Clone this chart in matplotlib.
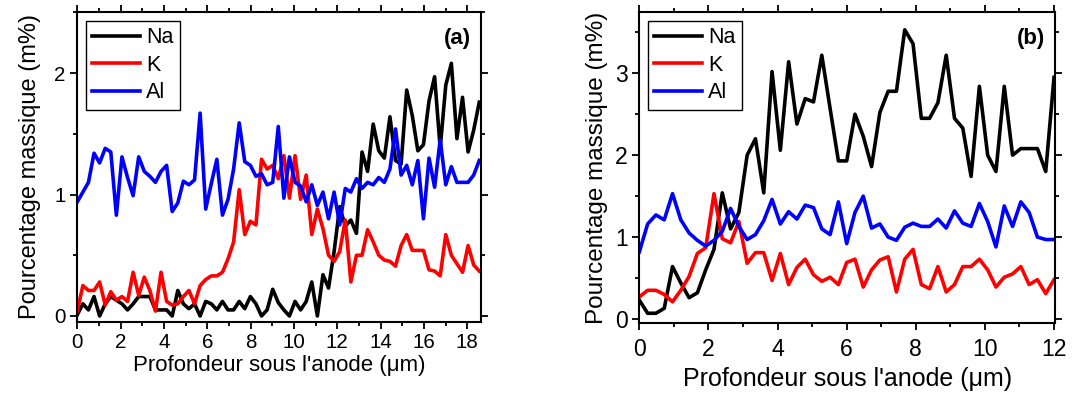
import numpy as np
import matplotlib
matplotlib.use("Agg")
import matplotlib.pyplot as plt
from matplotlib.ticker import MultipleLocator

plt.rcParams['font.family'] = ['Liberation Sans', 'DejaVu Sans']

# Panel (a) : profils sur 0 - 18.55 um
depthA = np.linspace(0, 18.55, 73)
naA = [0.01, 0.10, 0.05, 0.16, 0.00, 0.10, 0.16, 0.13, 0.10, 0.05,
       0.10, 0.16, 0.16, 0.16, 0.05, 0.05, 0.05, 0.00, 0.21, 0.10,
       0.06, 0.10, 0.00, 0.12, 0.10, 0.05, 0.12, 0.05, 0.05, 0.12,
       0.06, 0.16, 0.10, 0.00, 0.05, 0.22, 0.11, 0.05, 0.00, 0.12,
       0.05, 0.12, 0.28, 0.00, 0.34, 0.23, 0.53, 0.90, 0.74, 0.79,
       0.68, 1.35, 1.19, 1.58, 1.36, 1.30, 1.64, 1.28, 1.25, 1.86,
       1.65, 1.36, 1.41, 1.77, 1.97, 1.38, 1.90, 2.08, 1.46, 1.80,
       1.35, 1.53, 1.76]
kA = [0.04, 0.25, 0.21, 0.21, 0.28, 0.09, 0.20, 0.13, 0.16, 0.12,
      0.36, 0.17, 0.32, 0.21, 0.04, 0.36, 0.12, 0.09, 0.10, 0.16,
      0.21, 0.10, 0.25, 0.30, 0.33, 0.33, 0.36, 0.47, 0.61, 1.04,
      0.67, 0.78, 0.75, 1.29, 1.21, 1.24, 1.13, 1.32, 0.97, 1.32,
      0.96, 1.16, 0.67, 0.88, 0.72, 0.50, 0.45, 0.53, 0.79, 0.28,
      0.50, 0.50, 0.71, 0.61, 0.50, 0.46, 0.45, 0.41, 0.58, 0.67,
      0.54, 0.54, 0.54, 0.38, 0.37, 0.33, 0.67, 0.50, 0.43, 0.36,
      0.58, 0.42, 0.37]
alA = [0.94, 1.02, 1.10, 1.34, 1.26, 1.38, 1.35, 0.83, 1.31, 1.14,
       0.99, 1.31, 1.19, 1.15, 1.10, 1.19, 1.24, 0.86, 0.93, 1.11,
       1.08, 1.12, 1.67, 0.88, 1.09, 1.29, 0.83, 0.96, 1.21, 1.59,
       1.27, 1.24, 1.15, 1.17, 1.08, 1.10, 1.56, 0.97, 1.31, 1.10,
       1.07, 0.94, 1.08, 0.91, 1.02, 0.80, 1.02, 0.75, 1.05, 1.02,
       1.13, 1.05, 1.10, 1.08, 1.14, 1.10, 1.21, 1.54, 1.16, 1.24,
       1.08, 1.28, 0.80, 1.30, 1.06, 1.45, 1.08, 1.23, 1.10, 1.10,
       1.10, 1.16, 1.28]

# Panel (b) : profils sur 0 - 12 um
depthB = np.linspace(0, 12, 51)
naB = [0.23, 0.07, 0.07, 0.13, 0.64, 0.44, 0.26, 0.32, 0.60, 0.85,
       1.54, 1.10, 1.30, 2.00, 2.20, 1.54, 3.02, 2.06, 3.14, 2.38,
       2.69, 2.65, 3.22, 2.57, 1.93, 1.93, 2.50, 2.23, 1.86, 2.52,
       2.78, 2.78, 3.53, 3.36, 2.45, 2.45, 2.64, 3.22, 2.45, 2.33,
       1.74, 2.84, 2.00, 1.80, 2.84, 2.00, 2.08, 2.08, 2.08, 1.80,
       2.95]
kB = [0.27, 0.35, 0.35, 0.30, 0.21, 0.35, 0.52, 0.80, 0.87, 1.53,
      0.98, 0.93, 1.19, 0.68, 0.81, 0.81, 0.47, 0.80, 0.42, 0.63,
      0.73, 0.54, 0.46, 0.51, 0.42, 0.69, 0.73, 0.39, 0.60, 0.72,
      0.76, 0.33, 0.73, 0.85, 0.42, 0.37, 0.64, 0.33, 0.42, 0.64,
      0.64, 0.73, 0.60, 0.39, 0.51, 0.55, 0.64, 0.42, 0.48, 0.31,
      0.48]
alB = [0.82, 1.16, 1.27, 1.21, 1.53, 1.21, 1.05, 0.96, 0.89, 0.96,
       1.07, 1.35, 1.13, 0.97, 1.03, 1.20, 1.46, 1.16, 1.31, 1.22,
       1.39, 1.36, 1.10, 1.03, 1.43, 0.92, 1.30, 1.50, 1.11, 1.16,
       1.00, 0.96, 1.12, 1.17, 1.13, 1.13, 1.22, 1.11, 1.32, 1.17,
       1.13, 1.41, 1.19, 0.88, 1.38, 1.13, 1.43, 1.30, 1.00, 0.97,
       0.97]

fig = plt.figure(figsize=(10.72, 3.94), dpi=100)
axA = fig.add_axes([0.0721, 0.1835, 0.3766, 0.7853])
axB = fig.add_axes([0.5964, 0.1810, 0.3878, 0.7880])


def drawPanel(ax, depth, na, k, al, tag, fs, yfs, xpad, ypad, tpad):
    ax.plot(depth, na, color="black", lw=2.6, label="Na")
    ax.plot(depth, k, color="red", lw=2.6, label="K")
    ax.plot(depth, al, color="blue", lw=2.6, label="Al")
    ax.set_xlabel("Profondeur sous l'anode (\u03bcm)", fontsize=fs, labelpad=xpad)
    ax.set_ylabel("Pourcentage massique (m%)", fontsize=yfs, labelpad=ypad)
    ax.xaxis.set_major_locator(MultipleLocator(2))
    ax.xaxis.set_minor_locator(MultipleLocator(1))
    ax.yaxis.set_major_locator(MultipleLocator(1))
    ax.yaxis.set_minor_locator(MultipleLocator(0.5))
    ax.tick_params(which="both", direction="out", top=True, right=True,
                   labelsize=fs * 0.92, width=1.3)
    ax.tick_params(axis="x", pad=tpad)
    ax.tick_params(which="major", length=5)
    ax.tick_params(which="minor", length=3)
    for s in ax.spines.values():
        s.set_linewidth(1.5)
    leg = ax.legend(loc="upper left", fontsize=15.5, handlelength=2.2,
                    handletextpad=0.3, labelspacing=0.3, borderaxespad=0.4,
                    borderpad=0.3, fancybox=False, framealpha=1)
    leg.get_frame().set_edgecolor("black")
    leg.get_frame().set_linewidth(1.0)
    ax.text(0.975, 0.95, tag, transform=ax.transAxes, ha="right", va="top",
            fontsize=16, fontweight="bold")


drawPanel(axA, depthA, naA, kA, alA, "(a)", 16, 17, 2, 9, 3)
axA.set_xlim(0, 18.63)
axA.set_ylim(-0.047, 2.5)

drawPanel(axB, depthB, naB, kB, alB, "(b)", 18, 17.5, 4, 5, 6)
axB.set_xlim(0, 12.03)
axB.set_ylim(-0.045, 3.745)

fig.savefig("out.png", dpi=100)
